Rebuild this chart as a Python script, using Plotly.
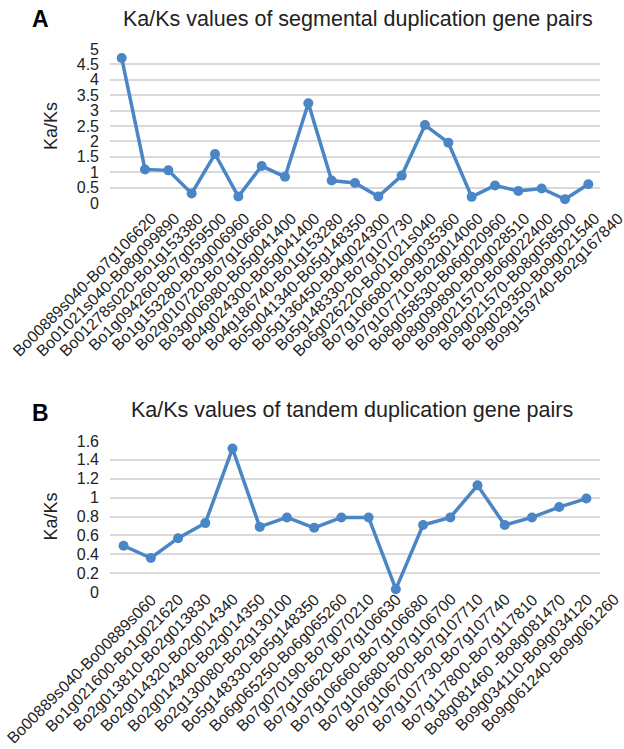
import plotly.graph_objects as go

seg_pairs = [
    "Bo00889s040-Bo7g106620", "Bo01021s040-Bo8g099890", "Bo01278s020-Bo1g153380",
    "Bo1g094260-Bo7g059500", "Bo1g153280-Bo3g006960", "Bo2g010720-Bo7g106660",
    "Bo3g006980-Bo5g041400", "Bo4g024300-Bo5g041400", "Bo4g186740-Bo1g153280",
    "Bo5g041340-Bo5g148350", "Bo5g136450-Bo4g024300", "Bo5g148330-Bo7g107730",
    "Bo6g026220-Bo01021s040", "Bo7g106680-Bo9g035360", "Bo7g107710-Bo2g014060",
    "Bo8g058530-Bo6g020960", "Bo8g099890-Bo9g028510", "Bo9g021570-Bo6g022400",
    "Bo9g021570-Bo8g058500", "Bo9g029350-Bo9g021540", "Bo9g159740-Bo2g167840",
]
seg_kaks = [4.71, 1.09, 1.06, 0.31, 1.59, 0.21, 1.2, 0.85, 3.24, 0.73, 0.65,
            0.21, 0.89, 2.53, 1.96, 0.2, 0.57, 0.39, 0.47, 0.12, 0.61]

tan_pairs = [
    "Bo00889s040-Bo00889s060", "Bo1g021600-Bo1g021620", "Bo2g013810-Bo2g013830",
    "Bo2g014320-Bo2g014340", "Bo2g014340-Bo2g014350", "Bo2g130080-Bo2g130100",
    "Bo5g148330-Bo5g148350", "Bo6g065250-Bo6g065260", "Bo7g070190-Bo7g070210",
    "Bo7g106620-Bo7g106630", "Bo7g106660-Bo7g106680", "Bo7g106680-Bo7g106700",
    "Bo7g106700-Bo7g107710", "Bo7g107730-Bo7g107740", "Bo7g117800-Bo7g117810",
    "Bo8g081460 -Bo8g081470", "Bo9g034110-Bo9g034120", "Bo9g061240-Bo9g061260",
]
tan_kaks = [0.49, 0.36, 0.57, 0.73, 1.52, 0.69, 0.79, 0.68, 0.79, 0.79, 0.03,
            0.71, 0.79, 1.13, 0.71, 0.79, 0.9, 0.99]

seg_yticks = [0, 0.5, 1, 1.5, 2, 2.5, 3, 3.5, 4, 4.5, 5]
seg_yticktext = ["0", "0.5", "1", "1.5", "2", "2.5", "3", "3.5", "4", "4.5", "5"]
tan_yticks = [0, 0.2, 0.4, 0.6, 0.8, 1.0, 1.2, 1.4, 1.6]
tan_yticktext = ["0", "0.2", "0.4", "0.6", "0.8", "1", "1.2", "1.4", "1.6"]

BLUE = "#4A86C5"
FONT = "Liberation Sans, Arial, sans-serif"
TXT = "#222222"
W, H = 624, 749

fig = go.Figure()
fig.add_trace(go.Scatter(
    x=list(range(len(seg_pairs))), y=seg_kaks, mode="lines+markers",
    line=dict(color=BLUE, width=3.5), marker=dict(color=BLUE, size=10),
    xaxis="x", yaxis="y", cliponaxis=False, showlegend=False))
fig.add_trace(go.Scatter(
    x=list(range(len(tan_pairs))), y=tan_kaks, mode="lines+markers",
    line=dict(color=BLUE, width=3.5), marker=dict(color=BLUE, size=10),
    xaxis="x2", yaxis="y2", cliponaxis=False, showlegend=False))

def ydom(top_px, bottom_px):
    return [(H - bottom_px) / H, (H - top_px) / H]

xdom = [110 / W, 600 / W]

def xaxis_cfg(anchor, labels, show):
    return dict(domain=xdom, anchor=anchor, range=[-0.5, len(labels) - 0.5],
                tickmode="array", tickvals=list(range(len(labels))), ticktext=labels,
                showticklabels=show,
                tickangle=-45, showgrid=False, zeroline=False,
                showline=False, ticks="", ticklabelshift=30, ticklabelstandoff=2,
                ticklabeloverflow="allow", automargin=False,
                tickfont=dict(family=FONT, size=16, color=TXT))

def yaxis_cfg(anchor, dom, rng, vals, texts):
    return dict(domain=dom, anchor=anchor, range=rng, tickmode="array",
                tickvals=vals, ticktext=texts,
                showgrid=True, gridcolor="#D9D9D9", gridwidth=1.5, zeroline=False,
                showline=False, ticks="", ticklabelstandoff=10, automargin=False,
                tickfont=dict(family=FONT, size=16, color=TXT),
                title=dict(text="Ka/Ks", font=dict(family=FONT, size=18, color=TXT),
                           standoff=14))

annotations = [
    dict(text="<b>A</b>", x=40 / W, y=1 - 19 / H, xref="paper", yref="paper",
         showarrow=False, font=dict(family=FONT, size=23, color="black"),
         xanchor="center", yanchor="middle"),
    dict(text="Ka/Ks values of segmental duplication gene pairs",
         x=358 / W, y=1 - 19 / H, xref="paper", yref="paper", showarrow=False,
         font=dict(family=FONT, size=21.5, color=TXT),
         xanchor="center", yanchor="middle"),
    dict(text="<b>B</b>", x=40 / W, y=1 - 413 / H, xref="paper", yref="paper",
         showarrow=False, font=dict(family=FONT, size=23, color="black"),
         xanchor="center", yanchor="middle"),
    dict(text="Ka/Ks values of tandem duplication gene pairs",
         x=352 / W, y=1 - 410 / H, xref="paper", yref="paper", showarrow=False,
         font=dict(family=FONT, size=21.5, color=TXT),
         xanchor="center", yanchor="middle"),
]
# category labels of panel B, placed on the x2 axis scale
for i, lab in enumerate(tan_pairs):
    annotations.append(dict(
        text=lab, x=i, y=0, xref="x2", yref="y2", showarrow=False,
        textangle=-45, xanchor="right", yanchor="top", xshift=39, yshift=4,
        font=dict(family=FONT, size=16, color=TXT)))

fig.update_layout(
    width=W, height=H, margin=dict(l=0, r=0, t=0, b=0),
    plot_bgcolor="white", paper_bgcolor="white",
    xaxis=xaxis_cfg("y", seg_pairs, True),
    yaxis=yaxis_cfg("x", ydom(49, 203), [0, 5], seg_yticks, seg_yticktext),
    xaxis2=xaxis_cfg("y2", tan_pairs, False),
    yaxis2=yaxis_cfg("x2", ydom(441, 592), [0, 1.6], tan_yticks, tan_yticktext),
    annotations=annotations,
)

fig.write_html("out.html")
